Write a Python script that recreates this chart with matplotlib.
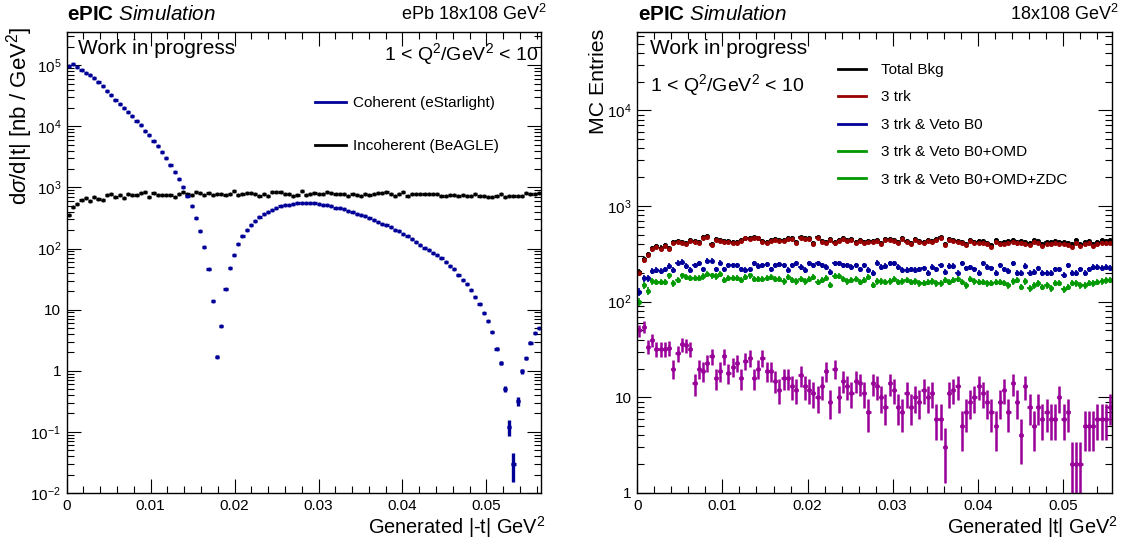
import numpy as np
import matplotlib
matplotlib.use('Agg')
import matplotlib.pyplot as plt
from matplotlib.ticker import FixedLocator, FuncFormatter, MultipleLocator, NullFormatter
from matplotlib.lines import Line2D

plt.rcParams['font.family'] = ['Liberation Sans', 'DejaVu Sans']
plt.rcParams['mathtext.fontset'] = 'custom'
plt.rcParams['mathtext.rm'] = 'Liberation Sans'
plt.rcParams['mathtext.it'] = 'Liberation Sans:italic'
plt.rcParams['mathtext.bf'] = 'Liberation Sans:bold'

# ---- left panel: d sigma / d|t|  (112 bins, 0 .. 0.0565 GeV^2) ----
coherent = [95500, 105000, 93300, 83200, 75900, 69200, 61700, 52500, 45700, 38000,
            32400, 27500, 23400, 20000, 17000, 14500, 12300, 10500, 8500, 7100,
            5750, 4700, 3800, 3000, 2350, 1780, 1380, 1000, 725, 490,
            316, 195, 105, 46, 14, 1.7, 5.5, 22, 48, 79,
            120, 158, 200, 245, 282, 324, 363, 398, 427, 457,
            490, 513, 525, 537, 550, 550, 550, 550, 550, 537,
            525, 513, 490, 468, 457, 436, 417, 398, 372, 355,
            339, 316, 295, 275, 257, 240, 224, 204, 191, 174,
            158, 145, 129, 115, 102, 93, 85, 78, 69, 60,
            52, 46, 37, 31, 26, 21, 16, 12.6, 8.9, 6.5,
            4.3, 2.3, 1.35, 0.51, 0.12, 0.03, 0.32, 0.98, 1.6, 2.9,
            4.2, 5.1]
# visible uncertainties only (bin index -> error)
coherent_err = {34: 0.3, 35: 0.11, 36: 0.2, 100: 0.2, 101: 0.15, 102: 0.12, 103: 0.06,
                104: 0.035, 105: 0.015, 106: 0.05, 107: 0.09, 108: 0.11, 109: 0.15,
                110: 0.18, 111: 0.2}
incoherent = [355, 470, 535, 615, 680, 590, 705, 650, 630, 740,
              790, 705, 740, 680, 790, 760, 760, 815, 835, 705,
              815, 740, 740, 760, 740, 710, 775, 850, 790, 740,
              850, 800, 760, 800, 740, 790, 775, 760, 775, 870,
              760, 775, 815, 815, 790, 730, 775, 730, 835, 835,
              835, 790, 775, 730, 740, 880, 740, 775, 800, 770,
              780, 830, 800, 780, 770, 780, 725, 780, 750, 725,
              780, 750, 780, 800, 800, 830, 780, 725, 780, 830,
              725, 780, 770, 780, 770, 770, 780, 770, 725, 725,
              750, 750, 725, 750, 725, 725, 770, 725, 725, 710,
              710, 725, 770, 690, 725, 725, 725, 725, 800, 770,
              780, 800]

# ---- right panel: MC entries (112 bins, 0 .. 0.0558 GeV^2) ----
total_bkg = [205, 278, 312, 360, 383, 368, 392, 365, 424, 433,
             425, 408, 442, 432, 424, 478, 488, 400, 450, 442,
             433, 432, 424, 424, 442, 468, 459, 469, 468, 433,
             424, 442, 451, 442, 442, 459, 459, 424, 469, 460,
             460, 408, 469, 433, 424, 451, 416, 442, 460, 442,
             451, 424, 442, 424, 433, 433, 442, 408, 451, 451,
             442, 424, 460, 433, 408, 451, 433, 424, 442, 433,
             451, 469, 400, 451, 442, 433, 424, 400, 442, 424,
             430, 428, 412, 392, 440, 415, 420, 432, 440, 425,
             432, 418, 410, 442, 435, 400, 418, 420, 436, 420,
             420, 412, 398, 438, 405, 422, 430, 405, 422, 438,
             430, 440]
trk3 = [200, 272, 307, 352, 375, 358, 382, 358, 414, 423,
        414, 398, 432, 423, 414, 468, 477, 390, 440, 432,
        423, 423, 414, 414, 432, 458, 449, 458, 458, 423,
        414, 432, 440, 432, 432, 449, 449, 414, 458, 449,
        449, 398, 458, 423, 414, 440, 406, 432, 449, 432,
        440, 414, 432, 414, 423, 423, 432, 398, 440, 440,
        432, 414, 449, 423, 398, 440, 423, 414, 432, 423,
        440, 458, 390, 440, 432, 423, 414, 390, 432, 414,
        414, 414, 398, 375, 423, 398, 398, 414, 423, 406,
        414, 398, 390, 423, 414, 382, 398, 398, 414, 398,
        398, 390, 375, 414, 382, 398, 406, 382, 398, 414,
        406, 414]
veto_b0 = [127, 175, 175, 211, 214, 211, 218, 236, 214, 255,
           262, 236, 214, 241, 251, 218, 268, 268, 218, 255,
           218, 241, 241, 241, 218, 214, 218, 251, 236, 241,
           247, 218, 241, 247, 241, 214, 241, 251, 232, 214,
           251, 241, 251, 241, 232, 206, 251, 251, 241, 241,
           232, 241, 218, 241, 214, 198, 255, 232, 236, 251,
           251, 232, 214, 214, 218, 214, 218, 223, 201, 232,
           218, 241, 206, 236, 236, 198, 251, 223, 228, 218,
           201, 251, 232, 223, 198, 241, 218, 211, 251, 201,
           198, 236, 198, 206, 223, 201, 201, 201, 218, 218,
           190, 241, 198, 198, 218, 198, 218, 232, 232, 226,
           232, 226]
veto_omd = [100, 148, 130, 164, 161, 161, 161, 188, 155, 170,
            188, 181, 178, 178, 178, 184, 195, 188, 184, 195,
            170, 178, 178, 178, 170, 181, 188, 174, 174, 174,
            178, 181, 174, 174, 164, 181, 170, 164, 174, 164,
            174, 181, 161, 170, 178, 150, 185, 185, 174, 164,
            170, 174, 161, 170, 181, 150, 164, 164, 161, 164,
            174, 161, 164, 170, 161, 164, 155, 158, 161, 164,
            155, 155, 170, 161, 170, 174, 161, 148, 174, 164,
            161, 161, 155, 158, 161, 161, 158, 148, 164, 170,
            143, 164, 138, 148, 155, 143, 148, 138, 158, 158,
            135, 143, 158, 155, 148, 148, 158, 155, 161, 164,
            167, 170]
veto_zdc = [50, 55, 34, 40, 32, 32, 32, 33, 20, 29,
            36, 35, 32, 14, 20, 19, 23, 27, 16, 19,
            27, 18, 21, 23, 16, 24, 26, 16, 20, 26,
            19, 19, 15, 12, 16, 16, 13, 12, 17, 13,
            12, 11, 10, 13, 19, 9, 20, 10, 15, 13,
            11, 15, 14, 11, 7, 14, 13, 10, 8, 14,
            12, 8, 7, 11, 8, 10, 9, 12, 10, 11,
            6, 6, 3, 11, 12, 13, 5, 7, 9, 10,
            13, 11, 9, 7, 5, 9, 12, 7, 14, 9,
            4, 13, 8, 5, 8, 6, 7, 6, 6, 10,
            6, 7, 2, 2, 2, 5, 5, 5, 6, 6,
            6, 8]

right_labels = ['Total Bkg', '3 trk', '3 trk & Veto B0', '3 trk & Veto B0+OMD',
                '3 trk & Veto B0+OMD+ZDC']
right_colors = ['black', '#990000', '#000099', '#009900', '#009900']

W, H = 1122, 543
fig = plt.figure(figsize=(W / 100, H / 100), dpi=100)


def fx(px):
    return px / W


def fy(py):
    return 1 - py / H


def log_label(v, pos):
    e = int(round(np.log10(v)))
    if e == 0:
        return '1'
    if e == 1:
        return '10'
    return r'$10^{%d}$' % e


def style_axis(ax, lo, hi):
    ax.set_yscale('log')
    ax.xaxis.set_major_locator(MultipleLocator(0.01))
    ax.xaxis.set_minor_locator(MultipleLocator(0.002))
    ax.xaxis.set_major_formatter(FuncFormatter(lambda v, p: '%g' % round(v, 4)))
    decades = [10.0 ** e for e in range(lo, hi + 1)]
    minors = [m * d for d in decades for m in range(2, 10)]
    ax.yaxis.set_major_locator(FixedLocator(decades))
    ax.yaxis.set_minor_locator(FixedLocator(minors))
    ax.yaxis.set_major_formatter(FuncFormatter(log_label))
    ax.yaxis.set_minor_formatter(NullFormatter())
    ax.tick_params(which='both', direction='in', top=True, right=True, width=0.8,
                   labelsize=11, pad=4)
    ax.tick_params(which='major', length=10)
    ax.tick_params(which='minor', length=5)
    for s in ax.spines.values():
        s.set_linewidth(1.0)


ax1 = fig.add_axes([fx(66.7), fy(493), fx(541) - fx(66.7), fy(32) - fy(493)])
ax2 = fig.add_axes([fx(637.3), fy(493), fx(1112.3) - fx(637.3), fy(32) - fy(493)])

# left panel
edges1 = np.linspace(0, 0.0565, len(coherent) + 1)
c1 = 0.5 * (edges1[1:] + edges1[:-1])
hw1 = 0.5 * (edges1[1] - edges1[0])
coh = np.array(coherent, dtype=float)
cerr = np.zeros_like(coh)
for i, e in coherent_err.items():
    cerr[i] = e
ax1.errorbar(c1, incoherent, xerr=hw1, fmt='o', ms=1.8, color='black',
             elinewidth=2.4, capsize=0)
ax1.errorbar(c1, coh, xerr=hw1, yerr=cerr, fmt='o', ms=1.8, color='#000099',
             elinewidth=2.4, capsize=0)
style_axis(ax1, -2, 5)
ax1.set_xlim(0, 0.0565)
ax1.set_ylim(1e-2, 3.5e5)

ax1.legend([Line2D([], [], color='#000099', lw=2), Line2D([], [], color='black', lw=2)],
           ['Coherent (eStarlight)', 'Incoherent (BeAGLE)'],
           loc='upper left', bbox_to_anchor=(fx(315), fy(96)), bbox_transform=fig.transFigure,
           frameon=False, fontsize=11, handlelength=2.0, handletextpad=0.5,
           labelspacing=1.93, borderpad=0, borderaxespad=0)

# right panel
edges2 = np.linspace(0, 0.0558, len(trk3) + 1)
c2 = 0.5 * (edges2[1:] + edges2[:-1])
hw2 = 0.5 * (edges2[1] - edges2[0])
series = [total_bkg, trk3, veto_b0, veto_omd]
for vals, col in zip(series, right_colors[:4]):
    v = np.array(vals, dtype=float)
    ax2.errorbar(c2, v, xerr=hw2, yerr=np.sqrt(v), fmt='o', ms=2.6, color=col,
                 elinewidth=1.2, capsize=0)
vz = np.array(veto_zdc, dtype=float)
ax2.errorbar(c2, vz, xerr=hw2, yerr=[np.minimum(np.sqrt(vz), vz - 0.05), np.sqrt(vz)],
             fmt='o', ms=2.4, color='#990099', elinewidth=1.8, capsize=0)
style_axis(ax2, 0, 4)
ax2.set_xlim(0, 0.0558)
ax2.set_ylim(1, 6.6e4)

ax2.legend([Line2D([], [], color=c, lw=2) for c in right_colors], right_labels,
           loc='upper left', bbox_to_anchor=(fx(838), fy(63)), bbox_transform=fig.transFigure,
           frameon=False, fontsize=11, handlelength=1.8, handletextpad=1.0,
           labelspacing=0.88, borderpad=0, borderaxespad=0)

# labels and titles
fig.text(fx(66.7), fy(14), r'$\mathbf{ePIC}\ \mathit{Simulation}$', fontsize=14.9, va='center', ha='left')
fig.text(fx(547), fy(14), r'ePb 18x108 GeV$^{2}$', fontsize=13, va='center', ha='right')
fig.text(fx(638.5), fy(14), r'$\mathbf{ePIC}\ \mathit{Simulation}$', fontsize=14.9, va='center', ha='left')
fig.text(fx(1119), fy(14), r'18x108 GeV$^{2}$', fontsize=13, va='center', ha='right')

fig.text(fx(78), fy(48), 'Work in progress', fontsize=15, va='center', ha='left')
fig.text(fx(538), fy(54), r'1 < Q$^{2}$/GeV$^{2}$ < 10', fontsize=14, va='center', ha='right')
fig.text(fx(650), fy(48), 'Work in progress', fontsize=15, va='center', ha='left')
fig.text(fx(650), fy(85), r'1 < Q$^{2}$/GeV$^{2}$ < 10', fontsize=14, va='center', ha='left')

fig.text(fx(20), fy(27), r'd$\sigma$/d|t| [nb / GeV$^{2}$]', fontsize=16, rotation=90,
         va='top', ha='center')
fig.text(fx(598), fy(29), 'MC Entries', fontsize=15.3, rotation=90, va='top', ha='center')
fig.text(fx(546), fy(527), r'Generated |-t| GeV$^{2}$', fontsize=14.4, va='center', ha='right')
fig.text(fx(1118), fy(527), r'Generated |t| GeV$^{2}$', fontsize=14.4, va='center', ha='right')

fig.savefig('out.png', dpi=100)
